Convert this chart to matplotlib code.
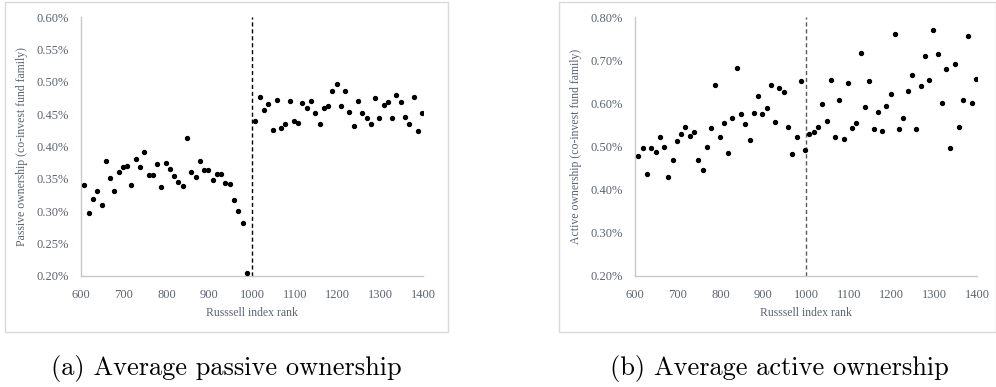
import matplotlib
matplotlib.use("Agg")
import matplotlib.pyplot as plt
from matplotlib.patches import Rectangle
from matplotlib.ticker import FuncFormatter

# Russell rank bins, below and above the 1000 cutoff
rank_below = [608, 618, 628, 638, 648, 658, 668, 678, 688, 698,
              708, 718, 728, 738, 748, 758, 768, 778, 788, 798,
              808, 818, 828, 838, 848, 858, 868, 878, 888, 898,
              908, 918, 928, 938, 948, 958, 968, 978, 988, 998]
rank_above = [1008, 1018, 1028, 1038, 1048, 1058, 1068, 1078, 1088, 1098,
              1108, 1118, 1128, 1138, 1148, 1158, 1168, 1178, 1188, 1198,
              1208, 1218, 1228, 1238, 1248, 1258, 1268, 1278, 1288, 1298,
              1308, 1318, 1328, 1338, 1348, 1358, 1368, 1378, 1388, 1398]

# average passive ownership (%), the 998 bin is not shown in the panel
passive_below = [0.340, 0.298, 0.319, 0.332, 0.310, 0.378, 0.352, 0.331, 0.360, 0.368,
                 0.370, 0.340, 0.380, 0.368, 0.391, 0.356, 0.356, 0.373, 0.337, 0.375,
                 0.365, 0.355, 0.345, 0.339, 0.413, 0.360, 0.353, 0.378, 0.364, 0.363,
                 0.349, 0.358, 0.358, 0.343, 0.342, 0.318, 0.300, 0.282, 0.205]
passive_above = [0.440, 0.476, 0.456, 0.466, 0.426, 0.472, 0.429, 0.435, 0.470, 0.440,
                 0.436, 0.467, 0.459, 0.470, 0.452, 0.434, 0.459, 0.463, 0.486, 0.496,
                 0.463, 0.486, 0.453, 0.432, 0.470, 0.452, 0.444, 0.434, 0.475, 0.444,
                 0.464, 0.469, 0.444, 0.479, 0.469, 0.446, 0.434, 0.476, 0.424, 0.451]

# average active ownership (%)
active_below = [0.478, 0.496, 0.437, 0.496, 0.487, 0.522, 0.499, 0.430, 0.469, 0.513,
                0.528, 0.546, 0.525, 0.533, 0.469, 0.446, 0.499, 0.542, 0.642, 0.521,
                0.555, 0.485, 0.567, 0.683, 0.576, 0.553, 0.514, 0.578, 0.616, 0.576,
                0.589, 0.642, 0.557, 0.636, 0.626, 0.546, 0.482, 0.521, 0.651, 0.492]
active_above = [0.530, 0.534, 0.546, 0.598, 0.560, 0.653, 0.521, 0.608, 0.517, 0.646,
                0.544, 0.555, 0.717, 0.591, 0.651, 0.540, 0.580, 0.537, 0.594, 0.622,
                0.760, 0.541, 0.567, 0.628, 0.666, 0.541, 0.639, 0.710, 0.655, 0.771,
                0.714, 0.601, 0.680, 0.497, 0.692, 0.546, 0.608, 0.755, 0.601, 0.657]

W, H = 996, 387
fig = plt.figure(figsize=(W / 100, H / 100), dpi=100)

tick_col = '#5b6470'
serif = 'Liberation Serif'

# light grey frames around each Excel chart
for x0, x1 in [(5, 448), (559, 996)]:
    fig.patches.append(Rectangle((x0 / W, 1 - 332 / H), (x1 - x0) / W, 330 / H,
                                 transform=fig.transFigure, fill=False,
                                 edgecolor='#d9d9d9', linewidth=1))


def style_axes(ax, ymin, ymax, ystep, ylabel, dash_col):
    ax.set_xlim(600, 1400)
    ax.set_ylim(ymin, ymax)
    ax.set_xticks(range(600, 1401, 100))
    n = int(round((ymax - ymin) / ystep))
    ax.set_yticks([ymin + i * ystep for i in range(n + 1)])
    ax.yaxis.set_major_formatter(FuncFormatter(lambda v, p: f'{v:.2f}%'))
    for s in ['top', 'right']:
        ax.spines[s].set_visible(False)
    for s in ['left', 'bottom']:
        ax.spines[s].set_color('#c8c8c8')
        ax.spines[s].set_linewidth(1)
    ax.tick_params(length=0, labelsize=9, labelcolor=tick_col, pad=9)
    for lab in ax.get_xticklabels() + ax.get_yticklabels():
        lab.set_fontfamily(serif)
    ax.set_xlabel('Russsell index rank', fontsize=8.5, color=tick_col,
                  fontfamily=serif, labelpad=5)
    ax.set_ylabel(ylabel, fontsize=8.5, color=tick_col, fontfamily=serif,
                  labelpad=6)
    ax.axvline(1000, color=dash_col, linestyle=(0, (3, 2)), linewidth=1, zorder=1)


ax1 = fig.add_axes([81 / W, 1 - 276 / H, 342 / W, 259 / H])
ax1.scatter(rank_below[:len(passive_below)], passive_below, s=8, color='black', zorder=3)
ax1.scatter(rank_above, passive_above, s=8, color='black', zorder=3)
style_axes(ax1, 0.20, 0.60, 0.05, 'Passive ownership (co-invest fund family)', 'black')

ax2 = fig.add_axes([635 / W, 1 - 276 / H, 342 / W, 259 / H])
ax2.scatter(rank_below, active_below, s=8, color='black', zorder=3)
ax2.scatter(rank_above, active_above, s=8, color='black', zorder=3)
style_axes(ax2, 0.20, 0.80, 0.10, 'Active ownership (co-invest fund family)', '#595959')

# sub-figure captions
fig.text(226 / W, 1 - 368 / H, '(a) Average passive ownership', fontfamily='cmr10',
         fontsize=19, ha='center', va='center')
fig.text(779 / W, 1 - 368 / H, '(b) Average active ownership', fontfamily='cmr10',
         fontsize=19, ha='center', va='center')

fig.savefig('out.png', dpi=100)
